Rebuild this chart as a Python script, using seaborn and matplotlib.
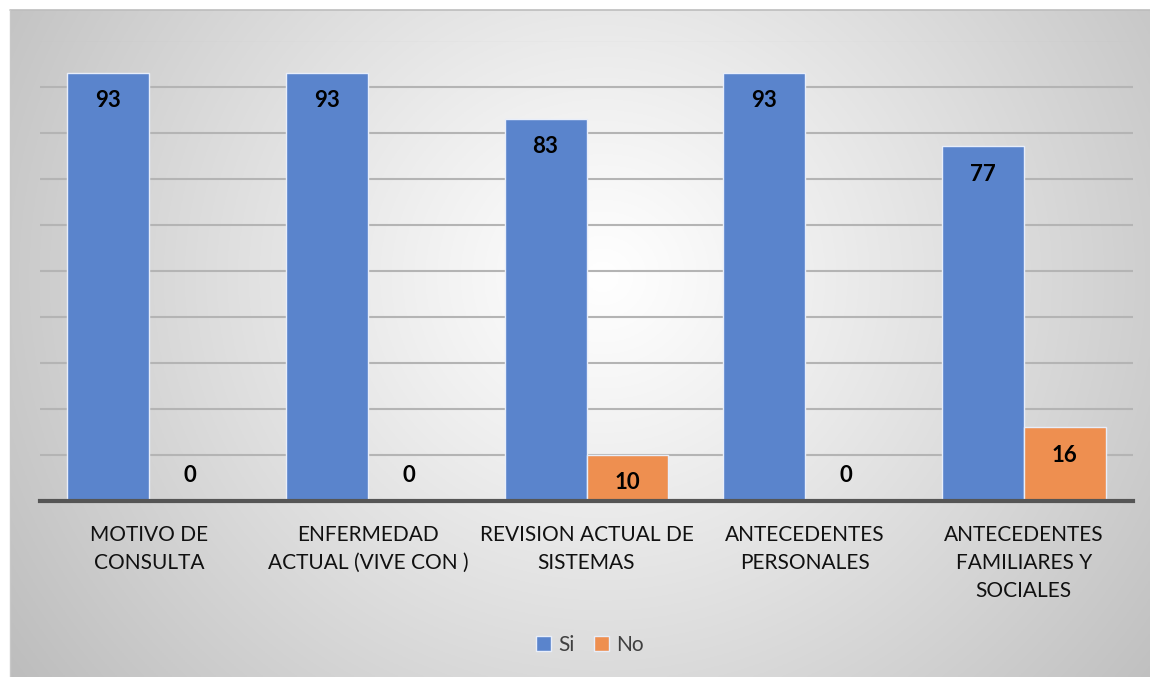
import numpy as np
import pandas as pd
import matplotlib
matplotlib.use("Agg")
import matplotlib.pyplot as plt
from matplotlib.patches import Patch
import seaborn as sns

categories = [
    "MOTIVO DE\nCONSULTA",
    "ENFERMEDAD\nACTUAL (VIVE CON )",
    "REVISION ACTUAL DE\nSISTEMAS",
    "ANTECEDENTES\nPERSONALES",
    "ANTECEDENTES\nFAMILIARES Y\nSOCIALES",
]
series_names = ["Si", "No"]
si_values = [93, 93, 83, 93, 77]
no_values = [0, 0, 10, 0, 16]
colors = {"Si": "#5a84cc", "No": "#ee8f50"}

df = pd.DataFrame({
    "categoria": categories * 2,
    "serie": ["Si"] * len(categories) + ["No"] * len(categories),
    "valor": si_values + no_values,
})

sns.set_theme(style="white")
plt.rcParams["font.family"] = ["Lato", "DejaVu Sans"]

W, H = 1150, 677
fig = plt.figure(figsize=(W / 100, H / 100), dpi=100)
fig.patch.set_facecolor("white")

# radial gradient backdrop for the chart area
bg = fig.add_axes([10 / W, 0, 1 - 10 / W, 1 - 10 / H])
bg.set_axis_off()
nx, ny = 600, 360
xx, yy = np.meshgrid(np.linspace(0, 1, nx), np.linspace(0, 1, ny))
cx, cy = 0.52, 0.40
dist = np.sqrt(((xx - cx) * 1.0) ** 2 + ((yy - cy) * 0.62) ** 2)
dist = dist / dist.max()
shade = 1.0 - 0.26 * np.clip(dist, 0, 1) ** 1.1
img = np.dstack([shade, shade, shade])
bg.imshow(img, extent=[0, 1, 0, 1], origin="upper", aspect="auto")
bg.set_xlim(0, 1)
bg.set_ylim(0, 1)
bg.plot([0, 1], [1, 1], color="#bdbdbd", lw=1.2, transform=bg.transAxes, clip_on=False)
bg.plot([0, 0], [0, 1], color="#c8c8c8", lw=1.0, transform=bg.transAxes, clip_on=False)

left, right = 40 / W, 1133 / W
bottom = 1 - 501 / H
top = 1 - 40.5 / H
ax = fig.add_axes([left, bottom, right - left, top - bottom])
ax.patch.set_alpha(0)

sns.barplot(
    data=df, x="categoria", y="valor", hue="serie",
    hue_order=series_names, palette=colors, width=0.75,
    edgecolor="#e8eefa", linewidth=1.0, saturation=1, ax=ax,
    legend=False, zorder=3,
)

ax.set_ylim(0, 100)
ax.set_yticks(np.arange(10, 101, 10))
ax.yaxis.grid(True, color="#b4b4b4", linewidth=1.5, zorder=0)
ax.set_axisbelow(True)
ax.set_yticklabels([])
ax.tick_params(axis="y", length=0)
ax.tick_params(axis="x", length=0, pad=17.5)
ax.set_xlabel("")
ax.set_ylabel("")
for side in ["left", "right", "top"]:
    ax.spines[side].set_visible(False)
ax.spines["bottom"].set_color("#555555")
ax.spines["bottom"].set_linewidth(3)
ax.spines["bottom"].set_zorder(5)

for lbl in ax.get_xticklabels():
    lbl.set_fontsize(15)
    lbl.set_color("#111111")
    lbl.set_linespacing(1.5)
    lbl.set_verticalalignment("top")

# value labels just inside the bar end (above the axis for zero values)
for container in ax.containers:
    for bar in container:
        v = bar.get_height()
        xc = bar.get_x() + bar.get_width() / 2
        dy = 25 if v == 0 else -28
        ax.annotate(f"{v:.0f}", (xc, v), xytext=(0, dy * 72 / 100),
                    textcoords="offset points", ha="center", va="center",
                    fontsize=16, fontweight="bold", color="black", zorder=6)

handles = [Patch(facecolor=colors[s], edgecolor="#e8eefa", label=s) for s in series_names]
fig.legend(handles=handles, loc="center", bbox_to_anchor=(590 / W, 1 - 645 / H),
           ncol=2, frameon=False, fontsize=15, handlelength=0.75, handleheight=0.75,
           handletextpad=0.35, columnspacing=0.9, labelcolor="#404040")

fig.savefig("out.png", dpi=100, facecolor="white")
